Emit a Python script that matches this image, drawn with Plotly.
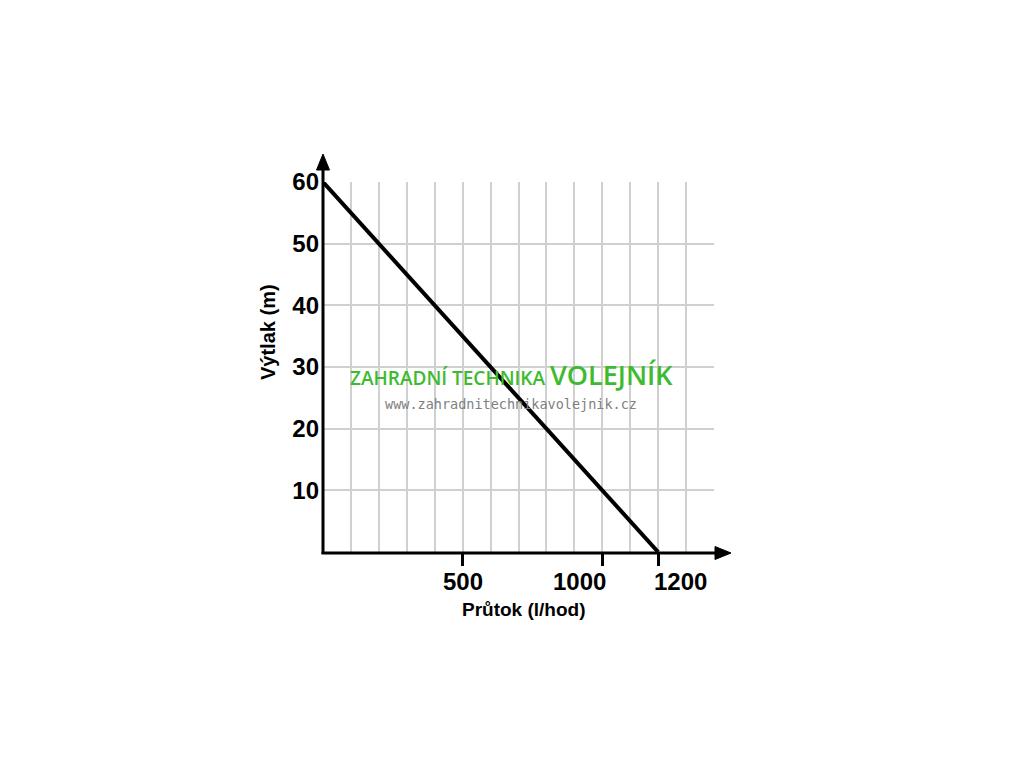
import plotly.graph_objects as go

# Data
flow = [0, 1200]          # l/hod
head = [60, 0]            # m
x_tick_vals = [500, 1000, 1200]
x_tick_text = ["500", "1000", "1200"]
y_tick_vals = [10, 20, 30, 40, 50, 60]
y_tick_text = ["10", "20", "30", "40", "50", "60"]
x_title = "Průtok (l/hod)"
y_title = "Výtlak (m)"

W, H = 1024, 768
OFF = 8                            # page body margin
L, R, T, B = 323, 714, 182, 552    # plot area in page px


def px(xp):
    return (xp - L) / (R - L)


def py(yp):
    return (B - yp) / (B - T)


FONT = "Liberation Sans, Arial, sans-serif"

fig = go.Figure()
fig.add_trace(go.Scatter(x=flow, y=head, mode="lines",
                         line=dict(color="black", width=4),
                         cliponaxis=False, hoverinfo="skip", showlegend=False))

shapes = []
# axis lines
shapes.append(dict(type="line", xref="paper", yref="paper",
                   x0=px(321.5), x1=px(718), y0=py(553), y1=py(553),
                   line=dict(color="black", width=3)))
shapes.append(dict(type="line", xref="paper", yref="paper",
                   x0=px(323), x1=px(323), y0=py(554), y1=py(168),
                   line=dict(color="black", width=3)))


def tri(pts):
    d = "M " + " L ".join(f"{px(a)},{py(b)}" for a, b in pts) + " Z"
    return dict(type="path", xref="paper", yref="paper", path=d,
                fillcolor="black", line=dict(color="black", width=1))


shapes.append(tri([(731, 553), (715, 546.5), (715, 559.5)]))
shapes.append(tri([(323, 154), (316.5, 170), (329.5, 170)]))

annotations = []
# x tick labels
xa = [("center", 0), ("right", 6), ("left", -6)]
for v, t, (anc, sh) in zip(x_tick_vals, x_tick_text, xa):
    annotations.append(dict(x=v, xref="x", y=py(581), yref="paper",
                            text=t, showarrow=False, xanchor=anc, xshift=sh,
                            yanchor="middle",
                            font=dict(family=FONT, size=24, color="black", weight="bold")))
# axis titles
annotations.append(dict(x=px(523), y=py(609), xref="paper", yref="paper",
                        text=x_title, showarrow=False, xanchor="center", yanchor="middle",
                        font=dict(family=FONT, size=19, color="black", weight="bold")))
annotations.append(dict(x=px(268), y=py(332), xref="paper", yref="paper",
                        text=y_title, showarrow=False, textangle=-90,
                        xanchor="center", yanchor="middle",
                        font=dict(family=FONT, size=20, color="black", weight="bold")))
# watermark
annotations.append(dict(x=px(511), y=py(394), xref="paper", yref="paper",
                        text="ZAHRADNÍ TECHNIKA <span style='font-size:27px'>VOLEJNÍK</span>",
                        showarrow=False, xanchor="center", yanchor="bottom", borderpad=0,
                        font=dict(family="Open Sans, Noto Sans, sans-serif", size=19,
                                  color="#3dbb2e", weight=600)))
annotations.append(dict(x=px(511), y=py(394.5), xref="paper", yref="paper",
                        text="www.zahradnitechnikavolejnik.cz",
                        showarrow=False, xanchor="center", yanchor="top", borderpad=0,
                        font=dict(family="DejaVu Sans Mono, monospace", size=13.5,
                                  color="#808080")))

fig.update_layout(
    width=W, height=H,
    margin=dict(l=L - OFF, r=W - R + OFF, t=T - OFF, b=H - B + OFF, pad=0),
    paper_bgcolor="white", plot_bgcolor="white",
    showlegend=False,
    shapes=shapes, annotations=annotations,
    xaxis=dict(range=[0, 1400], tickvals=x_tick_vals, showticklabels=False,
               ticks="outside", ticklen=13, tickwidth=3, tickcolor="black",
               showgrid=True, gridcolor="#d0d0d0", gridwidth=2,
               minor=dict(tick0=0, dtick=100, showgrid=True, gridcolor="#d0d0d0",
                          gridwidth=2, ticks=""),
               zeroline=False, showline=False, fixedrange=True),
    yaxis=dict(range=[0, 60], tickvals=y_tick_vals, ticktext=y_tick_text,
               ticks="", ticklabelstandoff=3,
               tickfont=dict(family=FONT, size=24, color="black", weight="bold"),
               showgrid=True, gridcolor="#d0d0d0", gridwidth=2,
               zeroline=False, showline=False, fixedrange=True),
)

fig.write_html("out.html")
